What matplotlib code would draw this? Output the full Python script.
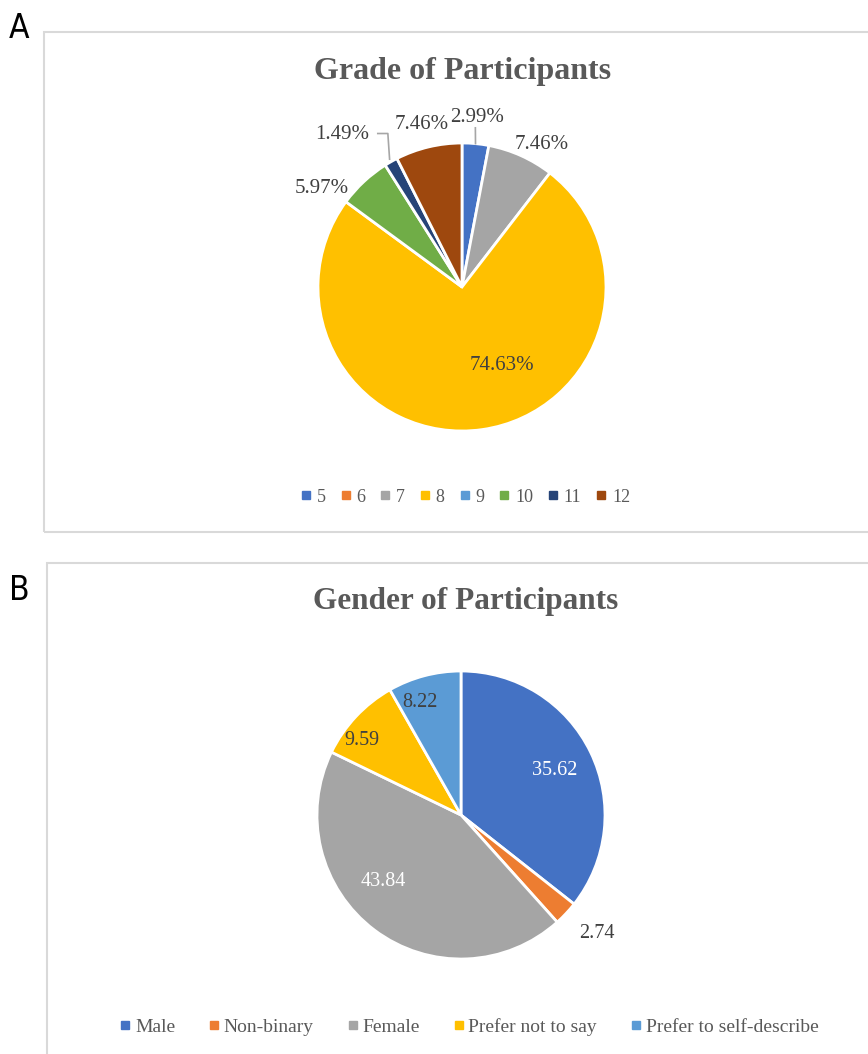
import numpy as np
import matplotlib
matplotlib.use("Agg")
import matplotlib.pyplot as plt
from matplotlib.patches import Rectangle
from matplotlib.lines import Line2D

# ---- data ----
grade_labels = ["5", "6", "7", "8", "9", "10", "11", "12"]
grade_values = [2.99, 0.0, 7.46, 74.63, 0.0, 5.97, 1.49, 7.46]
grade_colors = ["#4472C4", "#ED7D31", "#A5A5A5", "#FFC000",
                "#5B9BD5", "#70AD47", "#264478", "#9E480E"]

gender_labels = ["Male", "Non-binary", "Female", "Prefer not to say",
                 "Prefer to self-describe"]
gender_values = [35.62, 2.74, 43.84, 9.59, 8.22]
gender_colors = ["#4472C4", "#ED7D31", "#A5A5A5", "#FFC000", "#5B9BD5"]

W, H = 868, 1054
DPI = 100
SERIF = "Liberation Serif"
TITLE_C = "#595959"
LABEL_C = "#404040"
LEGEND_C = "#595959"
SPAN = 1.6

fig = plt.figure(figsize=(W / DPI, H / DPI), dpi=DPI)
fig.patch.set_facecolor("white")


def px_axes(cx, cy, r):
    """Axes whose data unit equals r pixels, centred on pixel (cx, cy)."""
    half = SPAN * r
    ax = fig.add_axes([(cx - half) / W, (H - cy - half) / H,
                       2 * half / W, 2 * half / H])
    ax.axis("off")
    return ax


def fx(x):
    return x / W


def fy(y):
    return 1 - y / H


# ---- panel frames ----
fig.add_artist(Rectangle((fx(44), fy(532)), fx(900 - 44), fy(32) - fy(532),
                         transform=fig.transFigure, fill=False,
                         edgecolor="#D9D9D9", lw=1.5))
fig.add_artist(Rectangle((fx(47), fy(1080)), fx(900 - 47), fy(563) - fy(1080),
                         transform=fig.transFigure, fill=False,
                         edgecolor="#D9D9D9", lw=1.5))
fig.text(fx(19), fy(28), "A", fontsize=24, fontfamily="DejaVu Sans",
         fontstretch="condensed", ha="center", va="center", color="black")
fig.text(fx(19), fy(590), "B", fontsize=24, fontfamily="DejaVu Sans",
         fontstretch="condensed", ha="center", va="center", color="black")


def draw_pie(ax, values, colors):
    nz = [i for i, v in enumerate(values) if v > 0]
    wedges, _ = ax.pie([values[i] for i in nz],
                       colors=[colors[i] for i in nz],
                       startangle=90, counterclock=False, radius=1.0,
                       wedgeprops=dict(edgecolor="white", linewidth=2))
    ax.set_xlim(-SPAN, SPAN)
    ax.set_ylim(-SPAN, SPAN)
    ax.set_aspect("equal")
    return {i: w for i, w in zip(nz, wedges)}


def mid_angle(w):
    return np.deg2rad(0.5 * (w.theta1 + w.theta2))


# ---- panel A: grade ----
axA = px_axes(462, 287, 144)
wA = draw_pie(axA, grade_values, grade_colors)
fig.text(fx(463), fy(71), "Grade of Participants", fontsize=23,
         fontweight="bold", fontfamily=SERIF, color=TITLE_C,
         ha="center", va="center")

# label placement: (radius, angle in degrees)
grade_label_pos = {
    0: (1.18, 85.0),
    2: (1.13, 60.8),
    3: (0.61, -62.7),
    5: (1.19, 144.9),
    6: (1.35, 128.2),
    7: (1.16, 104.0),
}
for i, (r, a) in grade_label_pos.items():
    t = np.deg2rad(a)
    x, y = r * np.cos(t), r * np.sin(t)
    txt = f"{grade_values[i]:.2f}%"
    axA.text(x, y, txt, fontsize=15, fontfamily=SERIF, color=LABEL_C,
             ha="center", va="center")

# leader lines for the two thin slices
t5 = mid_angle(wA[0])
t5l = np.deg2rad(85.0)
axA.plot([1.18 * np.cos(t5l) - 0.01, 1.0 * np.cos(t5)],
         [1.18 * np.sin(t5l) - 0.07, 1.0 * np.sin(t5)],
         color="#A6A6A6", lw=1.2)
t11 = mid_angle(wA[6])
t11l = np.deg2rad(128.2)
lx, ly = 1.35 * np.cos(t11l) + 0.25, 1.35 * np.sin(t11l) + 0.005
axA.plot([lx, lx + 0.07, 1.02 * np.cos(t11)],
         [ly, ly, 1.02 * np.sin(t11)],
         color="#A6A6A6", lw=1.2)

handlesA = [Line2D([], [], marker="s", linestyle="none", markersize=6,
                   markerfacecolor=c, markeredgecolor=c) for c in grade_colors]
fig.legend(handlesA, grade_labels, loc="center",
           bbox_to_anchor=(fx(465), fy(497)), ncol=len(grade_labels),
           frameon=False, handlelength=0.7, handletextpad=0.25,
           columnspacing=0.75, prop=dict(family=SERIF, size=13),
           labelcolor=LEGEND_C)

# ---- panel B: gender ----
axB = px_axes(461, 815, 144)
wB = draw_pie(axB, gender_values, gender_colors)
fig.text(fx(466), fy(602), "Gender of Participants", fontsize=22.5,
         fontweight="bold", fontfamily=SERIF, color=TITLE_C,
         ha="center", va="center")

gender_label_pos = [
    (0.72, 25.6, "white"),
    (1.25, -41.0, LABEL_C),
    (0.71, -139.3, "white"),
    (0.86, 143.2, LABEL_C),
    (0.835, 110.0, LABEL_C),
]
for v, (r, a, c) in zip(gender_values, gender_label_pos):
    t = np.deg2rad(a)
    axB.text(r * np.cos(t), r * np.sin(t), f"{v:.2f}", fontsize=14.5,
             fontfamily=SERIF, color=c, ha="center", va="center")

handlesB = [Line2D([], [], marker="s", linestyle="none", markersize=6,
                   markerfacecolor=c, markeredgecolor=c) for c in gender_colors]
fig.legend(handlesB, gender_labels, loc="center",
           bbox_to_anchor=(fx(469), fy(1027)), ncol=len(gender_labels),
           frameon=False, handlelength=0.6, handletextpad=0.2,
           columnspacing=1.7, prop=dict(family=SERIF, size=14),
           labelcolor=LEGEND_C)

fig.savefig("out.png", dpi=DPI, facecolor="white")
